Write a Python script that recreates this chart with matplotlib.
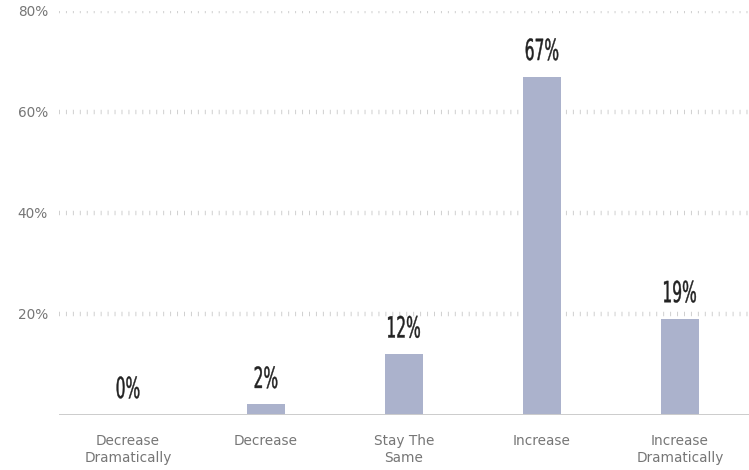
import numpy as np
import matplotlib.pyplot as plt
from matplotlib.textpath import TextPath
from matplotlib.patches import PathPatch
from matplotlib.font_manager import FontProperties
from matplotlib.transforms import Affine2D, ScaledTranslation

# survey answers, share of respondents in percent
categories = ["Decrease\nDramatically", "Decrease", "Stay The\nSame", "Increase", "Increase\nDramatically"]
shares = [0, 2, 12, 67, 19]
y_ticks = [20, 40, 60, 80]
y_tick_labels = ["20%", "40%", "60%", "80%"]

bar_color = "#abb2cc"
grid_color = "#cfcfcf"
label_gray = "#767676"

plt.rcParams['lines.scale_dashes'] = False

fig = plt.figure(figsize=(7.49, 4.70), dpi=100)
ax = fig.add_axes([0.0788, 0.118, 0.9212, 0.8587])

x = np.arange(len(categories))
ax.bar(x, shares, width=0.28, color=bar_color, zorder=2)

# ticked grid lines: short dashes drawn with a thick line look like little vertical ticks
for v in y_ticks:
    ax.axhline(v, color=grid_color, lw=3.2, dashes=(0.7, 4.3), zorder=1)
ax.axhline(0, color="#cccccc", lw=1.4, zorder=3)

ax.set_xlim(-0.5, len(categories) - 0.5)
ax.set_ylim(0, 80)
ax.set_yticks(y_ticks, y_tick_labels)
ax.set_xticks(x, categories)
ax.tick_params(axis='y', length=0, pad=8, labelsize=9.8, labelcolor=label_gray)
ax.tick_params(axis='x', length=0, pad=14, labelsize=9.8, labelcolor=label_gray)
for t in ax.get_xticklabels():
    t.set_linespacing(1.25)
for s in ax.spines.values():
    s.set_visible(False)

# condensed value labels: squeeze a text path horizontally, thicken it with an outline
fp = FontProperties(family="DejaVu Sans")
for xi, v in zip(x, shares):
    tp = TextPath((0, 0), f"{v}%", size=21, prop=fp)
    bb = tp.get_extents()
    tr = (Affine2D().translate(-(bb.x0 + bb.x1) / 2, 0).scale(0.53 / 72, 1 / 72).translate(0, 16.5 / 100)
          + fig.dpi_scale_trans + ScaledTranslation(xi, v, ax.transData))
    ax.add_patch(PathPatch(tp, transform=tr, facecolor="#222222", edgecolor="#222222",
                           lw=0.3, zorder=4, clip_on=False))

fig.savefig("out.png", dpi=100)
